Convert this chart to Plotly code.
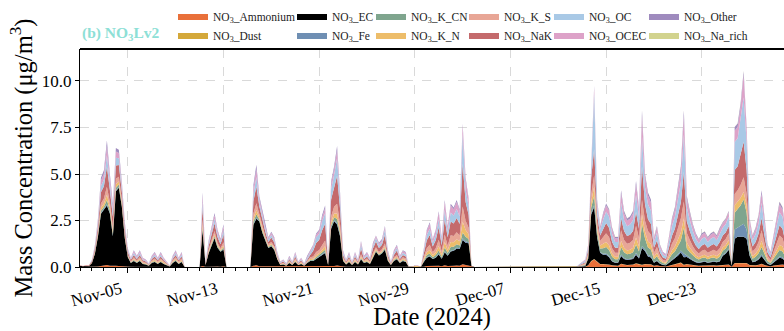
import pandas as pd
import plotly.graph_objects as go

# 6-hourly time steps starting 2024-11-01 00:00
TIMES = pd.date_range("2024-11-01 00:00", periods=237, freq="6h").strftime("%Y-%m-%d %H:%M").tolist()

AMMONIUM = ([0, 0, 0, 0, .01, .02, .03, .06, .07, .11, .07, .05, .07, .06, .04, .03, .02, .01]
            + [.02, .02, .02, .01, .01, .01, .02, .02, .01, .02, .01, .01, 0, .02, .02, .01, .02]
            + [0] * 6
            + [.06, .01, .02, .03, .04, .03, .02, .04]
            + [0] * 9
            + [.07, .09, .04, .04, .02, .02, .02, .02, .02, .01]
            + [.01, .01, .02, .01, .02, .01, .01, .01, .02, .02]
            + [.02, .03, .03, .04, .05, .01, .05, .06, .08, .05, .02]
            + [.01, .02, .01, .02, .01, .02, .02, .02, .01, .02, .02, .02, .02, .03, .02, .01, .02, .02, .02, .02, .02, 0, 0, 0, 0, 0]
            + [.02, .05, .06, .03, .05, .07, .04, .09, .05, .08, .07, .08, .07, .15, .11, .08]
            + [0] * 36
            + [.01, .01, .02, .08, .3, .4, .25, .15, .15, .15, .12,
               .08, .06, .06, .16, .12, .10, .11, .12, .18, .13,
               .1, .15, .16, .14, .06, .09, .05, .03, .03, .06,
               .10, .13, .17, .22, .1, .15, .12, .09, .07, .06,
               .07, .08, .06, .07, .08, .07, .08, .10, .10, .12,
               .02, .2, .2, .2, .2, .2, .10, .07, .08, .11,
               .16, .10, .05, .03, .07, .10, .14, .13, .08])

DUST = ([0] * 167
        + [0, 0, 0, .01, .02, .03, .02, .01, .01, .01, .01,
           .01, .01, .01, .02, .01, .01, .01, .01, .02, .01,
           .02, .01, .01, .01, .01, .01, .01, 0, 0, .01,
           .01, .01, .01, .02, .02, .01, .01, .01, .01, .01,
           .01, .01, .01, .01, .01, .01, .01, .01, .01, .01,
           0, .02, .02, .02, .03, .02, .01, .01, .01, .01,
           .02, .01, .01, 0, .01, .01, .01, .01, .01])

EC = ([.05, .03, .05, .05, .2, .7, 1.6, 2.8, 3.0, 3.2, 2.8, 1.6, 4.0, 4.2, 3.2, 1.5, .5, .2]
      + [.3, .2, .3, .15, .12, .06, .2, .25, .15, .25, .15, .1, .03, .2, .3, .15, .25]
      + [0] * 6
      + [1.9, .1, .7, 1.1, 1.5, 1.0, .8, .9]
      + [0] * 9
      + [2.2, 2.5, 2.4, 1.8, 1.4, 1.0, 1.1, .9, .4, .1]
      + [.12, .06, .2, .1, .25, .1, .15, .06, .2, .3]
      + [.3, .4, .5, .6, .7, .1, 2.0, 2.4, 2.2, 1.6, .3]
      + [.12, .25, .1, .25, .12, .4, .2, .25, .15, .5, .8, .6, .7, .9, .3, .1, .3, .4, .2, .3, .25, 0, 0, .03, .03, 0]
      + [.25, .45, .5, .4, .45, .6, .4, .7, .55, .75, .8, .9, .9, 1.3, 1.2, 1.2]
      + [0] * 36
      + [.02, .03, .04, .35, 2.5, 2.8, 1.3, .6, .5, .5, .4,
         .21, .16, .16, .41, .30, .26, .27, .30, .46, .32,
         .9, .7, .40, .36, .16, .22, .12, .08, .07, .16,
         .26, .32, .42, .54, .4, .38, .30, .23, .18, .15,
         .18, .19, .16, .18, .19, .17, .21, .50, .60, .80,
         .05, 1.3, 1.4, 1.4, 1.4, 1.3, .50, .17, .21, .28,
         .41, .26, .12, .08, .17, .26, .35, .32, .20])

FE = ([0, 0, 0, 0, 0, .01, .02, .04, .04, .07, .04, .04, .05, .04, .03, .02, .01, .01]
      + [.01, .01, .01, .01, .01, 0, .01, .01, .01, .01, .01, 0, 0, .01, .01, .01, .01]
      + [0] * 6
      + [.04, 0, .01, .02, .03, .02, .01, .03]
      + [0] * 9
      + [.04, .06, .03, .02, .02, .01, .02, .01, .01, 0]
      + [.01, 0, .01, 0, .01, 0, .01, 0, .01, .01]
      + [.02, .03, .03, .04, .05, 0, .05, .06, .08, .05, .01]
      + [.01, .01, 0, .01, .01, .02, .01, .01, .01, .02, .02, .01, .02, .02, .01, 0, .01, .02, .01, .01, .01, 0, 0, 0, 0, 0]
      + [.02, .03, .04, .02, .03, .05, .02, .06, .03, .05, .05, .05, .04, .10, .07, .05]
      + [0] * 36
      + [0, .01, .01, .02, .08, .1, .05, .04, .05, .06, .06,
         .04, .03, .03, .08, .06, .05, .05, .06, .09, .06,
         .1, .08, .08, .07, .03, .04, .02, .02, .01, .03,
         .05, .06, .08, .11, .2, .08, .06, .05, .04, .03,
         .04, .04, .03, .04, .04, .03, .04, .05, .05, .06,
         .01, .5, .5, .6, .7, .5, .05, .03, .04, .06,
         .08, .05, .02, .02, .03, .05, .07, .06, .04])

K_CN = ([0, 0, 0, 0, .01, .03, .06, .12, .13, .22, .13, .11, .14, .13, .08, .05, .03, .02]
        + [.04, .02, .04, .02, .02, .01, .02, .03, .02, .03, .02, .01, .01, .02, .04, .02, .03]
        + [0] * 6
        + [.13, .01, .04, .07, .08, .06, .04, .08]
        + [0] * 9
        + [.13, .18, .08, .07, .05, .04, .05, .04, .02, .01]
        + [.02, .01, .02, .01, .03, .01, .02, .01, .02, .04]
        + [.05, .07, .08, .11, .13, .01, .13, .15, .22, .12, .04]
        + [.02, .03, .01, .03, .02, .05, .02, .03, .02, .05, .05, .04, .05, .07, .04, .01, .04, .05, .02, .04, .03, 0, 0, .01, .01, 0]
        + [.05, .11, .13, .08, .11, .17, .08, .20, .12, .19, .17, .19, .15, .30, .25, .18]
        + [0] * 36
        + [.01, .03, .04, .08, .3, .5, .25, .2, .3, .35, .32,
           .21, .16, .16, .41, .30, .26, .27, .30, .46, .32,
           1.2, .6, .40, .36, .16, .22, .12, .08, .07, .16,
           .26, .32, .42, .54, 1.4, .38, .30, .23, .18, .15,
           .18, .19, .16, .18, .19, .17, .21, .22, .24, .26,
           .03, .9, 1.0, 1.1, 1.3, .9, .24, .17, .21, .28,
           .41, .26, .12, .08, .17, .26, .35, .32, .20])

K_N = ([0, 0, 0, 0, .02, .04, .08, .16, .18, .29, .18, .14, .19, .17, .11, .07, .04, .02]
       + [.06, .04, .06, .04, .03, .01, .04, .06, .04, .06, .04, .02, .01, .04, .06, .04, .06]
       + [0] * 6
       + [.17, .02, .06, .09, .11, .08, .06, .11]
       + [0] * 9
       + [.18, .24, .11, .10, .06, .06, .06, .06, .04, .02]
       + [.03, .01, .04, .02, .06, .02, .04, .01, .04, .06]
       + [.06, .10, .10, .15, .18, .02, .18, .21, .30, .17, .06]
       + [.03, .06, .02, .06, .03, .07, .04, .06, .04, .06, .06, .06, .06, .09, .06, .02, .06, .06, .04, .06, .06, 0, 0, .01, .01, 0]
       + [.08, .15, .19, .11, .15, .24, .12, .29, .16, .27, .24, .27, .22, .60, .36, .25]
       + [0] * 36
       + [.01, .02, .03, .08, .3, .5, .2, .15, .22, .27, .25,
          .17, .13, .13, .33, .24, .21, .22, .24, .37, .26,
          .5, .35, .32, .29, .13, .18, .10, .06, .06, .13,
          .21, .26, .34, .43, .5, .30, .24, .18, .14, .12,
          .14, .15, .13, .14, .15, .14, .17, .17, .18, .20,
          .02, .4, .4, .4, .4, .4, .19, .14, .17, .22,
          .33, .21, .10, .06, .14, .21, .28, .26, .16])

K_S = ([.02, .01, .02, .02, .02, .06, .12, .24, .26, .43, .26, .22, .29, .25, .17, .11, .06, .04]
       + [.10, .06, .10, .06, .04, .02, .06, .09, .06, .09, .06, .03, .01, .06, .10, .06, .09]
       + [0] * 6
       + [.25, .03, .08, .13, .17, .12, .08, .17]
       + [0] * 9
       + [.26, .36, .17, .14, .10, .10, .10, .08, .06, .03]
       + [.04, .02, .06, .03, .09, .03, .06, .02, .06, .10]
       + [.11, .17, .18, .26, .31, .03, .31, .36, .52, .29, .10]
       + [.04, .09, .03, .09, .04, .12, .06, .09, .06, .10, .11, .08, .10, .16, .10, .03, .10, .10, .06, .10, .09, 0, 0, .01, .01, 0]
       + [.10, .22, .27, .15, .22, .34, .17, .41, .23, .37, .34, .38, .31, .80, .50, .35]
       + [0] * 36
       + [.02, .04, .06, .12, .4, .6, .3, .25, .38, .47, .44,
          .29, .22, .22, .57, .42, .36, .38, .42, .64, .45,
          .8, .6, .56, .50, .22, .31, .17, .11, .10, .22,
          .36, .45, .59, .76, .9, .53, .42, .32, .25, .21,
          .25, .27, .22, .25, .27, .24, .29, .30, .32, .36,
          .04, .6, .6, .7, .8, .6, .33, .24, .29, .39,
          .57, .36, .17, .11, .24, .36, .49, .45, .28])

NAK = ([.02, .01, .02, .02, .06, .15, .30, .60, .66, 1.08, .66, .54, .72, .63, .42, .27, .15, .09]
       + [.12, .08, .12, .07, .06, .03, .08, .11, .07, .11, .07, .04, .01, .08, .12, .07, .11]
       + [0] * 6
       + [.63, .04, .21, .33, .42, .30, .21, .42]
       + [0] * 9
       + [.66, .90, .42, .36, .24, .12, .24, .21, .08, .04]
       + [.06, .03, .08, .04, .11, .04, .07, .03, .08, .12]
       + [.31, .49, .53, .77, .91, .04, .91, 1.05, 1.50, .84, .12]
       + [.06, .11, .04, .11, .06, .32, .08, .11, .07, .24, .31, .21, .24, .45, .12, .04, .12, .24, .08, .12, .11, 0, 0, .01, .01, 0]
       + [.21, .43, .53, .31, .43, .67, .34, .81, .46, .74, .67, .76, .62, 2.30, 1.01, .70]
       + [0] * 36
       + [.03, .05, .06, .17, .9, 1.4, .45, .3, .45, .55, .5,
          .34, .26, .26, .66, .48, .42, .43, .48, .74, .51,
          1.8, .9, .64, .58, .26, .35, .19, .13, .11, .26,
          .42, .51, .67, .86, 1.6, .61, .48, .37, .29, .24,
          .29, .30, .26, .29, .30, .27, .34, .34, .36, .40,
          .04, 1.3, 1.3, 1.6, 1.9, 1.3, .38, .27, .34, .45,
          .66, .42, .19, .13, .27, .42, .56, .51, .32])

OC = ([0, 0, 0, 0, .04, .08, .17, .34, .37, .61, .37, .31, .41, .36, .24, .15, .08, .05]
      + [.11, .07, .11, .06, .05, .03, .07, .10, .06, .10, .06, .04, .01, .07, .11, .06, .10]
      + [0] * 6
      + [.36, .04, .12, .19, .24, .17, .12, .24]
      + [0] * 9
      + [.37, .51, .24, .20, .14, .11, .14, .12, .07, .04]
      + [.05, .03, .07, .04, .10, .04, .06, .03, .07, .11]
      + [.20, .31, .33, .49, .57, .04, .57, .66, .95, .53, .11]
      + [.05, .10, .04, .10, .05, .22, .07, .10, .06, .14, .20, .12, .14, .29, .11, .04, .11, .14, .07, .11, .10, 0, 0, .01, .01, 0]
      + [.14, .28, .34, .20, .28, .43, .22, .52, .30, .48, .43, .49, .40, 1.60, .65, .45]
      + [0] * 36
      + [.03, .06, .08, .18, .8, 3.0, .5, .3, .5, .62, .6,
         .42, .32, .32, .82, .60, .52, .54, .60, .92, .64,
         1.6, .9, .80, .72, .32, .44, .24, .16, .14, .32,
         .52, .64, .84, 1.08, 2.0, .76, .60, .46, .36, .30,
         .36, .38, .32, .36, .38, .34, .42, .42, .44, .50,
         .05, 1.5, 1.5, 1.9, 2.4, 1.5, .48, .34, .42, .56,
         .82, .52, .24, .16, .34, .52, .70, .64, .40])

OCEC = ([.01, 0, .01, .01, .03, .07, .14, .28, .31, .50, .31, .25, .34, .29, .20, .13, .07, .04]
        + [.10, .07, .10, .06, .04, .02, .07, .09, .06, .09, .06, .03, .01, .07, .10, .06, .09]
        + [0] * 6
        + [.29, .03, .10, .15, .20, .14, .10, .20]
        + [0] * 9
        + [.31, .42, .20, .17, .11, .10, .11, .10, .07, .03]
        + [.04, .02, .07, .03, .09, .03, .06, .02, .07, .10]
        + [.09, .14, .15, .22, .26, .03, .26, .30, .43, .24, .10]
        + [.04, .09, .03, .09, .04, .13, .07, .09, .06, .11, .09, .10, .11, .13, .10, .03, .10, .11, .07, .10, .09, 0, 0, .01, .01, 0]
        + [.10, .22, .27, .15, .22, .34, .17, .41, .23, .37, .34, .38, .31, .45, .50, .35]
        + [0] * 36
        + [.01, .04, .05, .10, .3, .3, .22, .16, .28, .33, .32,
           .25, .19, .19, .49, .36, .31, .32, .36, .55, .38,
           1.1, .55, .48, .43, .19, .26, .14, .10, .08, .19,
           .31, .38, .50, .65, 1.0, .46, .36, .28, .22, .18,
           .22, .23, .19, .22, .23, .20, .25, .24, .25, .24,
           .03, .6, .6, .7, 1.2, .6, .27, .20, .25, .34,
           .49, .31, .14, .10, .20, .31, .42, .38, .24])

OTHER = ([0, 0, 0, 0, .01, .04, .08, .16, .18, .29, .18, .14, .19, .17, .11, .07, .04, .02]
         + [.04, .03, .04, .02, .02, .01, .03, .04, .02, .04, .02, .02, .01, .03, .04, .02, .04]
         + [0] * 6
         + [.17, .02, .06, .09, .11, .08, .06, .11]
         + [0] * 9
         + [.18, .24, .11, .10, .06, .04, .06, .06, .03, .02]
         + [.02, .01, .03, .02, .04, .02, .02, .01, .03, .04]
         + [.04, .06, .07, .12, .14, .02, .14, .15, .22, .11, .04]
         + [.02, .04, .02, .04, .02, .05, .03, .04, .02, .06, .04, .06, .06, .06, .04, .02, .04, .06, .03, .04, .04, 0, 0, .01, .01, 0]
         + [.03, .06, .07, .05, .06, .09, .04, .11, .07, .10, .09, .10, .08, .10, .15, .09]
         + [0] * 36
         + [.01, .01, .01, .02, .12, .1, .08, .05, .07, .10, .09,
            .09, .07, .07, .17, .12, .11, .11, .12, .19, .13,
            .3, .17, .16, .15, .07, .09, .05, .03, .03, .07,
            .11, .13, .17, .21, .3, .15, .12, .09, .07, .06,
            .07, .07, .07, .07, .07, .07, .09, .06, .06, .06,
            .01, .2, .2, .2, .2, .2, .06, .07, .09, .11,
            .17, .11, .05, .03, .07, .11, .14, .13, .08])

NA_RICH = ([0] * 167
           + [0, 0, 0, 0, .01, .02, .01, .01, .01, .01, .01,
              .01, .01, .01, .01, .01, .01, .01, .01, .01, .01,
              .02, .01, .01, .01, .01, .01, .01, 0, 0, .01,
              .01, .01, .01, .01, .02, .01, .01, .01, .01, .01,
              .01, .01, .01, .01, .01, .01, .01, .01, .01, .01,
              0, .01, .01, .02, .02, .01, .01, .01, .01, .01,
              .01, .01, .01, 0, .01, .01, .01, .01, .01])

NAMES = ["NO<sub>3</sub>_Ammonium", "NO<sub>3</sub>_Dust", "NO<sub>3</sub>_EC", "NO<sub>3</sub>_Fe",
         "NO<sub>3</sub>_K_CN", "NO<sub>3</sub>_K_N", "NO<sub>3</sub>_K_S", "NO<sub>3</sub>_NaK",
         "NO<sub>3</sub>_OC", "NO<sub>3</sub>_OCEC", "NO<sub>3</sub>_Other", "NO<sub>3</sub>_Na_rich"]
VALUES = [AMMONIUM, DUST, EC, FE, K_CN, K_N, K_S, NAK, OC, OCEC, OTHER, NA_RICH]
COLORS = ["#E9703A", "#D4A83A", "#000000", "#6F8FB3", "#7FA58E", "#EDBD6A",
          "#E8A696", "#C46A6C", "#A9C9E6", "#DDA2C8", "#9F8BBE", "#D2D38E"]

for n, v in zip(NAMES, VALUES):
    assert len(v) == len(TIMES), (n, len(v))

FONT = "Liberation Serif"
W, H = 784, 331
L, R, T, B = 80, 0, 49, 64
PLOT_W = W - L - R
PLOT_H = H - T - B
DAY_MS = 86400000

fig = go.Figure()
LEG_TEXT_X = [213, 332, 411, 504, 589, 684]
for i, (name, vals, col) in enumerate(zip(NAMES, VALUES, COLORS)):
    leg = "legend" if i < 2 else f"legend{i // 2 + 1}"
    fig.add_trace(go.Scatter(
        x=TIMES, y=vals, name=name, mode="lines", stackgroup="one",
        line=dict(width=0), fillcolor=col, legend=leg, hoverinfo="skip"))

legends = {}
for k, tx in enumerate(LEG_TEXT_X):
    key = "legend" if k == 0 else f"legend{k + 1}"
    legends[key] = dict(
        x=(tx - 40 - L) / PLOT_W, xanchor="left",
        y=1 + (T - 1.5) / PLOT_H, yanchor="top",
        orientation="v", traceorder="normal", bgcolor="rgba(0,0,0,0)",
        borderwidth=0, font=dict(family=FONT, size=11.5, color="#222"),
        itemwidth=30, tracegroupgap=0)

fig.update_layout(
    width=W, height=H, autosize=False,
    margin=dict(l=L, r=R, t=T, b=B, pad=0, autoexpand=False),
    paper_bgcolor="white", plot_bgcolor="white",
    font=dict(family=FONT, color="black"),
    showlegend=True,
    **legends,
    xaxis=dict(
        range=["2024-11-01 00:00", "2024-12-29 21:00"],
        type="date", tick0="2024-11-05", dtick=8 * DAY_MS, tickformat="%b-%d",
        tickangle=-15, tickfont=dict(family=FONT, size=17), ticklabelshift=-7,
        ticks="outside", ticklen=5, tickcolor="black",
        minor=dict(dtick=DAY_MS, ticks="outside", ticklen=3,
                   tickcolor="black", showgrid=False),
        showline=True, linecolor="black", linewidth=1,
        showgrid=True, gridcolor="#d9d9d9", griddash="dash", gridwidth=1,
        zeroline=False, automargin=False,
        title=dict(text="Date (2024)", font=dict(family=FONT, size=24.5), standoff=2),
    ),
    yaxis=dict(
        range=[0, 11.72], tickvals=[0, 2.5, 5, 7.5, 10], tickformat=".1f",
        tickfont=dict(family=FONT, size=17),
        ticks="outside", ticklen=4, tickcolor="black",
        showline=True, linecolor="black", linewidth=1,
        showgrid=True, gridcolor="#d9d9d9", griddash="dash", gridwidth=1,
        zeroline=False, automargin=False,
        title=dict(text="Mass Concentration (μg/m<sup>3</sup>)", font=dict(family=FONT, size=24.5), standoff=2),
    ),
    shapes=[dict(type="line", xref="paper", yref="paper", x0=0, x1=1, y0=1, y1=1,
                 line=dict(color="black", width=2))],
    annotations=[dict(text="<b>(b) NO<sub>3</sub>Lv2</b>", xref="paper", x=0, xanchor="left",
                      yref="paper", y=1 + (T - 33) / PLOT_H, yanchor="middle", showarrow=False,
                      font=dict(family=FONT, size=15.5, color="#8DE0D6"))],
)

fig.write_html("out.html", config={"displayModeBar": False},
               post_script="document.body.style.margin='0px';")
